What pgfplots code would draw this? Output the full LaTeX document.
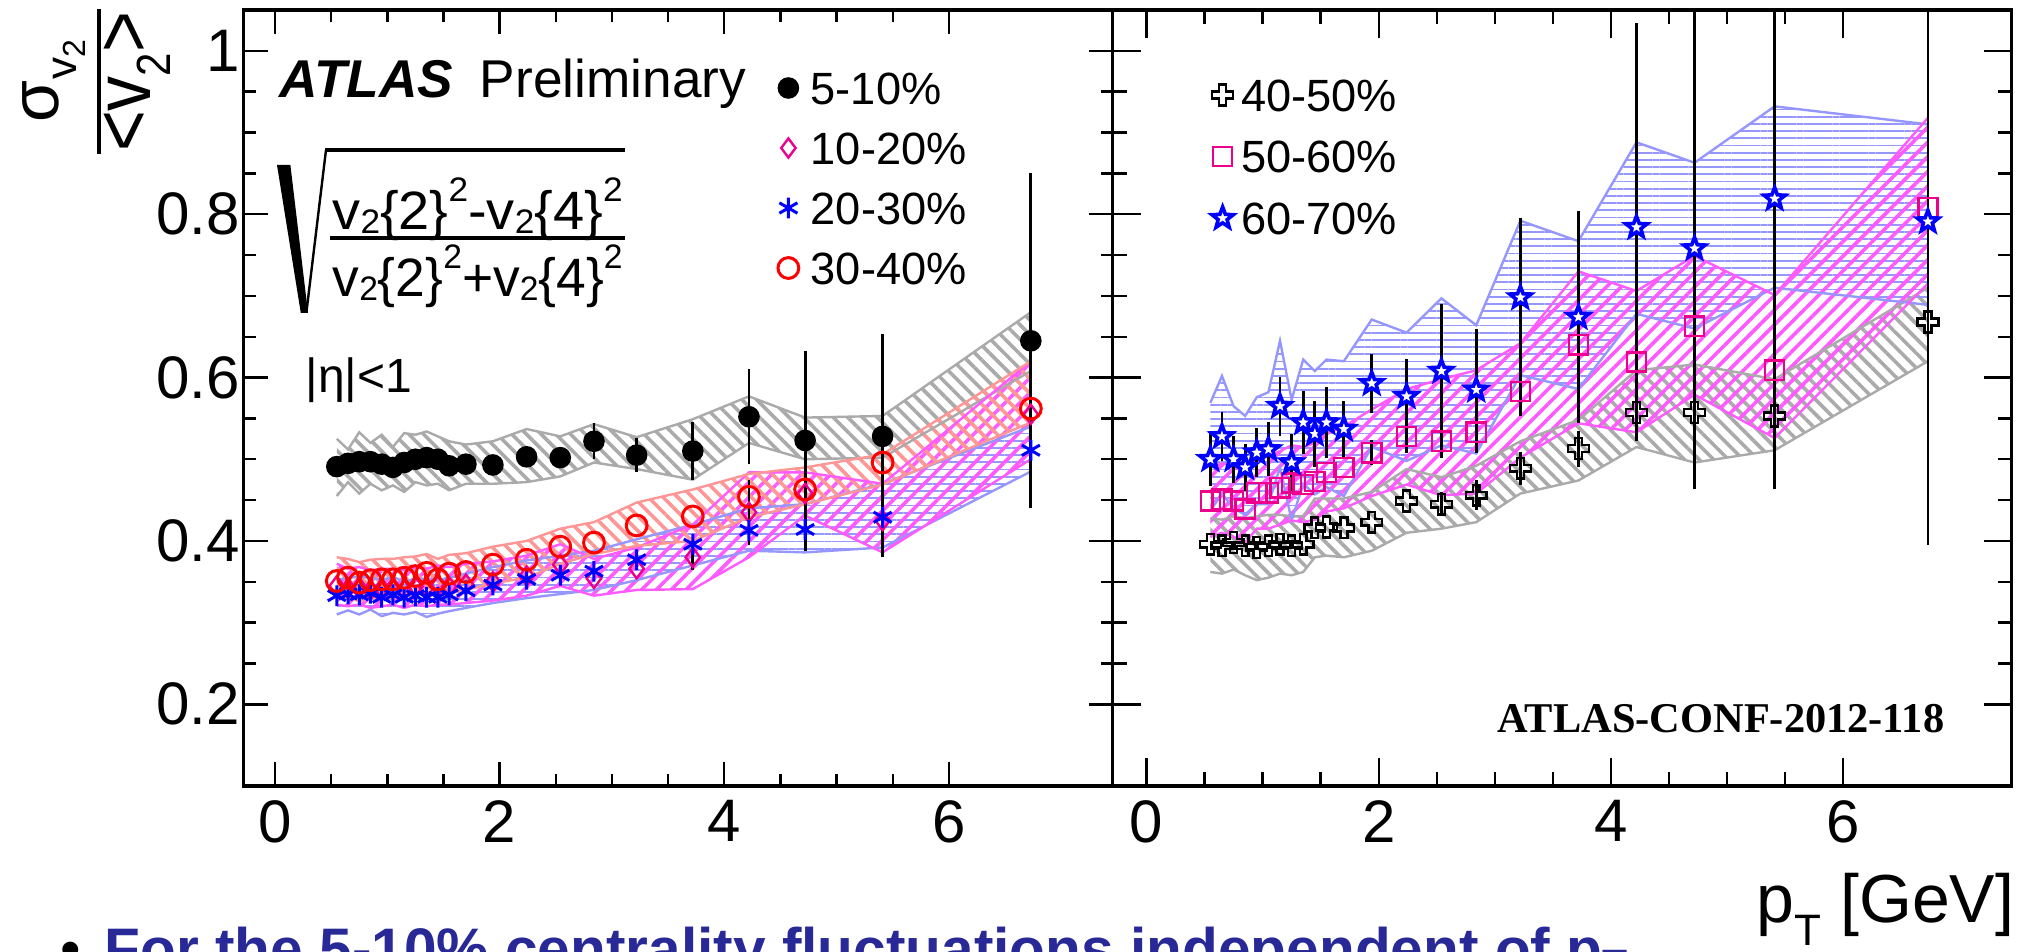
\documentclass[border=0pt]{standalone}
\usepackage{fontspec}
\setmainfont{Liberation Sans}
\newfontfamily\timesfont{Liberation Serif}
\usepackage{graphicx}
\usepackage{pgfplots}
\pgfplotsset{compat=1.18}
\usepackage{pgfplotstable}
\usepgfplotslibrary{fillbetween}
\usetikzlibrary{patterns.meta,plotmarks}

\definecolor{bgray}{RGB}{170,170,170}
\definecolor{bsalmon}{RGB}{255,150,150}
\definecolor{bblue}{RGB}{150,150,255}
\definecolor{bmag}{RGB}{255,90,255}
\definecolor{ptxt}{RGB}{40,40,150}

\pgfdeclareplotmark{ostar}{%
 \pgfpathmoveto{\pgfpointpolar{90}{\pgfplotmarksize}}%
 \pgfpathlineto{\pgfpointpolar{126}{0.42\pgfplotmarksize}}%
 \pgfpathlineto{\pgfpointpolar{162}{\pgfplotmarksize}}%
 \pgfpathlineto{\pgfpointpolar{198}{0.42\pgfplotmarksize}}%
 \pgfpathlineto{\pgfpointpolar{234}{\pgfplotmarksize}}%
 \pgfpathlineto{\pgfpointpolar{270}{0.42\pgfplotmarksize}}%
 \pgfpathlineto{\pgfpointpolar{306}{\pgfplotmarksize}}%
 \pgfpathlineto{\pgfpointpolar{342}{0.42\pgfplotmarksize}}%
 \pgfpathlineto{\pgfpointpolar{18}{\pgfplotmarksize}}%
 \pgfpathlineto{\pgfpointpolar{54}{0.42\pgfplotmarksize}}%
 \pgfpathclose\pgfusepathqfillstroke}
\pgfdeclareplotmark{ocross}{%
 \pgfpathmoveto{\pgfqpoint{-0.33\pgfplotmarksize}{\pgfplotmarksize}}%
 \pgfpathlineto{\pgfqpoint{0.33\pgfplotmarksize}{\pgfplotmarksize}}%
 \pgfpathlineto{\pgfqpoint{0.33\pgfplotmarksize}{0.33\pgfplotmarksize}}%
 \pgfpathlineto{\pgfqpoint{\pgfplotmarksize}{0.33\pgfplotmarksize}}%
 \pgfpathlineto{\pgfqpoint{\pgfplotmarksize}{-0.33\pgfplotmarksize}}%
 \pgfpathlineto{\pgfqpoint{0.33\pgfplotmarksize}{-0.33\pgfplotmarksize}}%
 \pgfpathlineto{\pgfqpoint{0.33\pgfplotmarksize}{-\pgfplotmarksize}}%
 \pgfpathlineto{\pgfqpoint{-0.33\pgfplotmarksize}{-\pgfplotmarksize}}%
 \pgfpathlineto{\pgfqpoint{-0.33\pgfplotmarksize}{-0.33\pgfplotmarksize}}%
 \pgfpathlineto{\pgfqpoint{-\pgfplotmarksize}{-0.33\pgfplotmarksize}}%
 \pgfpathlineto{\pgfqpoint{-\pgfplotmarksize}{0.33\pgfplotmarksize}}%
 \pgfpathlineto{\pgfqpoint{-0.33\pgfplotmarksize}{0.33\pgfplotmarksize}}%
 \pgfpathclose\pgfusepathqstroke}

\newcommand{\sbx}[1]{\raisebox{-1pt}{\fontsize{8.5}{9}\selectfont #1}}
\newcommand{\spx}[1]{\raisebox{7pt}{\fontsize{8.5}{9}\selectfont #1}}

% 5-10%
\pgfplotstableread{
pt v e lo hi
0.55 0.491 0 0.455 0.525
0.65 0.495 0 0.472 0.512
0.75 0.497 0 0.458 0.533
0.85 0.497 0 0.470 0.520
0.95 0.494 0 0.462 0.530
1.05 0.490 0 0.468 0.515
1.15 0.496 0 0.460 0.532
1.25 0.500 0 0.472 0.530
1.35 0.502 0 0.468 0.534
1.45 0.500 0 0.470 0.528
1.55 0.492 0 0.462 0.522
1.70 0.494 0 0.470 0.518
1.94 0.493 0 0.470 0.522
2.24 0.503 0 0.472 0.537
2.54 0.502 0.012 0.479 0.528
2.84 0.522 0.022 0.496 0.543
3.22 0.505 0.021 0.488 0.527
3.72 0.510 0.036 0.475 0.549
4.22 0.552 0.058 0.520 0.577
4.72 0.523 0.110 0.500 0.551
5.41 0.528 0.125 0.502 0.553
6.73 0.645 0.205 0.608 0.680
}\tA
% 10-20%
\pgfplotstableread{
pt v e lo hi
0.55 0.345 0 0.322 0.372
0.65 0.342 0 0.320 0.366
0.75 0.343 0 0.322 0.368
0.85 0.340 0 0.318 0.364
0.95 0.342 0 0.320 0.366
1.05 0.343 0 0.322 0.366
1.15 0.340 0 0.318 0.364
1.25 0.344 0 0.322 0.368
1.35 0.343 0 0.320 0.366
1.45 0.345 0 0.322 0.370
1.55 0.344 0 0.322 0.368
1.70 0.347 0 0.324 0.372
1.94 0.350 0 0.327 0.375
2.24 0.357 0 0.333 0.382
2.54 0.371 0 0.345 0.396
2.84 0.354 0 0.333 0.378
3.22 0.366 0 0.340 0.392
3.72 0.380 0.015 0.341 0.420
4.22 0.435 0.040 0.380 0.484
4.72 0.458 0.070 0.431 0.484
5.41 0.425 0.045 0.386 0.470
6.73 0.555 0.100 0.500 0.620
}\tB
% 20-30%
\pgfplotstableread{
pt v e lo hi
0.55 0.333 0 0.310 0.352
0.65 0.335 0 0.315 0.355
0.75 0.334 0 0.310 0.356
0.85 0.336 0 0.316 0.355
0.95 0.331 0 0.308 0.352
1.05 0.334 0 0.312 0.356
1.15 0.331 0 0.310 0.350
1.25 0.333 0 0.313 0.354
1.35 0.331 0 0.307 0.353
1.45 0.331 0 0.311 0.352
1.55 0.334 0 0.314 0.355
1.70 0.339 0 0.318 0.360
1.94 0.346 0 0.324 0.368
2.24 0.353 0 0.330 0.376
2.54 0.358 0 0.335 0.382
2.84 0.363 0 0.340 0.388
3.22 0.377 0 0.352 0.402
3.72 0.396 0 0.370 0.420
4.22 0.413 0.015 0.388 0.440
4.72 0.414 0.020 0.386 0.445
5.41 0.429 0.045 0.392 0.470
6.73 0.511 0.060 0.485 0.540
}\tC
% 30-40%
\pgfplotstableread{
pt v e lo hi
0.55 0.351 0 0.328 0.380
0.65 0.355 0 0.332 0.378
0.75 0.349 0 0.326 0.374
0.85 0.352 0 0.330 0.377
0.95 0.353 0 0.330 0.378
1.05 0.353 0 0.330 0.378
1.15 0.355 0 0.332 0.380
1.25 0.357 0 0.334 0.381
1.35 0.361 0 0.338 0.384
1.45 0.353 0 0.330 0.378
1.55 0.360 0 0.337 0.383
1.70 0.362 0 0.340 0.385
1.94 0.371 0 0.348 0.393
2.24 0.377 0 0.355 0.400
2.54 0.393 0 0.372 0.415
2.84 0.398 0 0.384 0.423
3.22 0.419 0 0.394 0.447
3.72 0.430 0 0.400 0.463
4.22 0.454 0.015 0.429 0.482
4.72 0.463 0.020 0.445 0.490
5.41 0.496 0.030 0.469 0.506
6.73 0.562 0.050 0.545 0.620
}\tD
% 40-50%
\pgfplotstableread{
pt v e lo hi
0.55 0.396 0 0.362 0.428
0.65 0.394 0 0.360 0.426
0.75 0.398 0 0.365 0.430
0.85 0.394 0 0.358 0.428
0.95 0.392 0 0.352 0.430
1.05 0.394 0 0.355 0.432
1.15 0.396 0 0.360 0.432
1.25 0.394 0 0.358 0.430
1.35 0.396 0 0.362 0.430
1.45 0.416 0 0.380 0.452
1.55 0.417 0 0.382 0.452
1.70 0.416 0 0.380 0.452
1.94 0.423 0 0.388 0.460
2.24 0.449 0 0.410 0.488
2.54 0.445 0.015 0.415 0.478
2.84 0.456 0.018 0.423 0.492
3.22 0.489 0.020 0.458 0.522
3.72 0.513 0.022 0.474 0.548
4.22 0.557 0.035 0.515 0.609
4.72 0.557 0.050 0.496 0.616
5.41 0.553 0.060 0.511 0.598
6.73 0.668 0.100 0.620 0.710
}\tE
% 50-60%
\pgfplotstableread{
pt v e lo hi
0.55 0.449 0 0.405 0.490
0.65 0.451 0 0.410 0.495
0.75 0.449 0 0.405 0.492
0.85 0.439 0 0.398 0.482
0.95 0.459 0 0.415 0.503
1.05 0.459 0 0.415 0.503
1.15 0.465 0 0.420 0.510
1.25 0.471 0 0.425 0.517
1.35 0.469 0 0.423 0.515
1.45 0.473 0 0.426 0.520
1.55 0.484 0 0.436 0.532
1.70 0.490 0 0.440 0.540
1.94 0.508 0.015 0.455 0.561
2.24 0.528 0.020 0.469 0.586
2.54 0.522 0.020 0.456 0.598
2.84 0.533 0.025 0.458 0.609
3.22 0.583 0.030 0.502 0.642
3.72 0.640 0.050 0.544 0.730
4.22 0.619 0.070 0.533 0.706
4.72 0.663 0.090 0.579 0.749
5.41 0.609 0.100 0.526 0.701
6.73 0.808 0.150 0.715 0.918
}\tF
% 60-70%
\pgfplotstableread{
pt v e lo hi
0.55 0.500 0.033 0.437 0.569
0.65 0.528 0.030 0.458 0.602
0.75 0.500 0.029 0.440 0.565
0.85 0.490 0.029 0.432 0.553
0.95 0.508 0.030 0.445 0.576
1.05 0.512 0.033 0.445 0.582
1.15 0.565 0.036 0.490 0.645
1.25 0.496 0.035 0.425 0.573
1.35 0.545 0.039 0.470 0.622
1.45 0.531 0.040 0.457 0.608
1.55 0.545 0.043 0.466 0.622
1.70 0.537 0.034 0.455 0.620
1.94 0.593 0.036 0.515 0.671
2.24 0.577 0.046 0.498 0.655
2.54 0.608 0.082 0.517 0.697
2.84 0.585 0.075 0.507 0.664
3.22 0.698 0.097 0.603 0.792
3.72 0.674 0.130 0.586 0.767
4.22 0.784 0.250 0.678 0.888
4.72 0.758 0.295 0.660 0.863
5.41 0.819 0.356 0.710 0.932
6.73 0.791 0.396 0.689 0.910
}\tG

\pgfplotsset{
 panel/.style={
   scale only axis, height=194pt, ymin=0.1, ymax=1.05,
   xtick={0,2,4,6}, minor x tick num=3,
   ytick={0.2,0.4,0.6,0.8,1}, minor y tick num=3,
   tick pos=both, tick align=inside,
   axis line style={line width=0.8pt},
   tick style={line width=0.6pt, black},
   tick label style={font=\fontsize{15}{15}\selectfont},
   /pgf/number format/assume math mode=true,
   /pgf/number format/fixed,
   yticklabel style={xshift=2.5pt},
   legend style={draw=none, fill=none, inner sep=0pt, outer sep=0pt,
      font=\fontsize{11.3}{13}\selectfont, cells={anchor=west},
      nodes={inner sep=1pt, text height=8.1pt, text depth=0pt}},
   legend image code/.code={\path[draw=none,fill=none] (0pt,-3pt) rectangle (5pt,3pt); \draw[##1] plot coordinates {(2.5pt,0pt)};},
 },
 errb/.style={error bars/.cd, y dir=both, y explicit, error mark=none,
   error bar style={black, line width=0.7pt}},
 bnd/.style={draw=#1, line width=0.6pt, forget plot},
}

\begin{document}
\begin{tikzpicture}
% ---------------- left panel
\begin{axis}[panel, at={(60.95pt,41.5pt)}, anchor=south west, width=217.25pt,
  xmin=-0.278, xmax=7.46, major tick length=6pt, minor tick length=3pt,
  legend style={at={(0.6147,0.9255)}, anchor=north west, row sep=4.9pt, column sep=2pt}]
\addplot[bnd=bgray, name path=Au] table[x=pt,y=hi]{\tA};
\addplot[bnd=bgray, name path=Al] table[x=pt,y=lo]{\tA};
\addplot[pattern={Lines[angle=-45,distance=2.6pt,line width=0.9pt]}, pattern color=bgray, forget plot] fill between[of=Au and Al];
\addplot[bnd=bblue, name path=Cu] table[x=pt,y=hi]{\tC};
\addplot[bnd=bblue, name path=Cl] table[x=pt,y=lo]{\tC};
\addplot[pattern={Lines[angle=0,distance=1.8pt,line width=0.45pt]}, pattern color=bblue, forget plot] fill between[of=Cu and Cl];
\addplot[bnd=bmag, name path=Bu] table[x=pt,y=hi]{\tB};
\addplot[bnd=bmag, name path=Bl] table[x=pt,y=lo]{\tB};
\addplot[pattern={Lines[angle=45,distance=2.6pt,line width=0.9pt]}, pattern color=bmag, forget plot] fill between[of=Bu and Bl];
\addplot[bnd=bsalmon, name path=Du] table[x=pt,y=hi]{\tD};
\addplot[bnd=bsalmon, name path=Dl] table[x=pt,y=lo]{\tD};
\addplot[pattern={Lines[angle=-45,distance=2.6pt,line width=0.9pt]}, pattern color=bsalmon, forget plot] fill between[of=Du and Dl];

\addplot[only marks, mark=*, mark size=2.5pt, black, errb] table[x=pt,y=v,y error=e]{\tA};
\addlegendentry{5-10\%}
\addplot[only marks, mark=diamond, mark size=2.4pt, magenta, mark options={line width=0.6pt}, errb] table[x=pt,y=v,y error=e]{\tB};
\addlegendentry{10-20\%}
\addplot[only marks, mark=asterisk, mark size=2.6pt, blue, mark options={line width=0.75pt}, errb] table[x=pt,y=v,y error=e]{\tC};
\addlegendentry{20-30\%}
\addplot[only marks, mark=o, mark size=2.6pt, red, mark options={line width=0.75pt}, errb] table[x=pt,y=v,y error=e]{\tD};
\addlegendentry{30-40\%}
\end{axis}
% ---------------- right panel
\begin{axis}[panel, at={(278.2pt,41.5pt)}, anchor=south west, width=224.75pt,
  xmin=-0.29, xmax=7.453, yticklabels={}, major tick length=7pt, minor tick length=3.5pt,
  legend style={at={(0.1103,0.9165)}, anchor=north west, row sep=5.3pt, column sep=1pt}]
\addplot[bnd=bgray, name path=Eu] table[x=pt,y=hi]{\tE};
\addplot[bnd=bgray, name path=El] table[x=pt,y=lo]{\tE};
\addplot[pattern={Lines[angle=-45,distance=2.6pt,line width=0.9pt]}, pattern color=bgray, forget plot] fill between[of=Eu and El];
\addplot[bnd=bblue, name path=Gu] table[x=pt,y=hi]{\tG};
\addplot[bnd=bblue, name path=Gl] table[x=pt,y=lo]{\tG};
\addplot[pattern={Lines[angle=0,distance=1.8pt,line width=0.45pt]}, pattern color=bblue, forget plot] fill between[of=Gu and Gl];
\addplot[bnd=bmag, name path=Fu] table[x=pt,y=hi]{\tF};
\addplot[bnd=bmag, name path=Fl] table[x=pt,y=lo]{\tF};
\addplot[pattern={Lines[angle=45,distance=2.6pt,line width=0.9pt]}, pattern color=bmag, forget plot] fill between[of=Fu and Fl];

\addplot[only marks, mark=ocross, mark size=2.6pt, black, mark options={line width=0.6pt}, errb] table[x=pt,y=v,y error=e]{\tE};
\addlegendentry{40-50\%}
\addplot[only marks, mark=square, mark size=2.4pt, magenta, mark options={line width=0.6pt}, errb] table[x=pt,y=v,y error=e]{\tF};
\addlegendentry{50-60\%}
\addplot[only marks, mark=ostar, mark size=2.8pt, blue, mark options={line width=0.9pt, fill=white}, errb] table[x=pt,y=v,y error=e]{\tG};
\addlegendentry{60-70\%}
\end{axis}

% ---------------- y label
\begin{scope}[shift={(24.5pt,217.5pt)}, rotate=90, transform shape]
\node[anchor=base west, inner sep=0pt, font=\fontsize{17}{17}\selectfont] at (-10.25pt,10pt) {σ};
\node[anchor=base west, inner sep=0pt, font=\fontsize{11}{11}\selectfont] at (0.5pt,5.5pt) {v};
\node[anchor=base west, inner sep=0pt, font=\fontsize{8}{8}\selectfont] at (6pt,3.25pt) {2};
\draw[line width=0.9pt] (-18pt,-0.25pt) -- (18.25pt,-0.25pt);
\node[anchor=base, inner sep=0pt] at (0pt,-13pt) {\resizebox{35pt}{\height}{\fontsize{20}{20}\selectfont <v\raisebox{-5pt}{\fontsize{12}{12}\selectfont 2}>}};
\end{scope}

% ---------------- texts
\node[anchor=base west, inner sep=0pt, font=\fontsize{13.3}{16}\selectfont] at (69.75pt,213.5pt) {\textbf{\textit{ATLAS}}\hspace{6.7pt}Preliminary};
\fill (69.25pt,196.75pt) -- (72.6pt,196.75pt) -- (77pt,159.75pt) -- (75.2pt,159.75pt) -- cycle;
\draw[line width=0.6pt] (76.6pt,159.9pt) -- (81.5pt,200.5pt);
\draw[line width=1pt] (81.3pt,200.5pt) -- (156.25pt,200.5pt);
\draw[line width=0.9pt] (82.5pt,178.5pt) -- (156.25pt,178.5pt);
\node[anchor=base, inner sep=0pt] at (119.4pt,180.5pt) {\resizebox{72.5pt}{\height}{\fontsize{13.5}{16}\selectfont v\sbx{2}\{2\}\spx{2}-v\sbx{2}\{4\}\spx{2}}};
\node[anchor=base, inner sep=0pt] at (119.4pt,163.75pt) {\resizebox{72.5pt}{\height}{\fontsize{13.5}{16}\selectfont v\sbx{2}\{2\}\spx{2}+v\sbx{2}\{4\}\spx{2}}};
\node[anchor=base west, inner sep=0pt, font=\fontsize{12}{14}\selectfont] at (76.25pt,139.75pt) {|η|<1};
\node[anchor=base east, inner sep=0pt, font=\timesfont\bfseries\fontsize{10.6}{12}\selectfont] at (486.25pt,54.75pt) {ATLAS-CONF-2012-118};
\node[anchor=base east, inner sep=0pt, font=\fontsize{17}{20}\selectfont] at (503.75pt,7.25pt) {p\raisebox{-5.75pt}{\fontsize{11}{11}\selectfont T} [GeV]};
\node[anchor=base, inner sep=0pt, font=\fontsize{14.65}{17}\selectfont] at (17.75pt,-4.5pt) {•};
\node[anchor=base west, inner sep=0pt, font=\bfseries\fontsize{14.65}{17}\selectfont, text=ptxt] at (26pt,-4.5pt) {For the 5-10\% centrality fluctuations independent of p\textsubscript{T}};

\pgfresetboundingbox
\path[use as bounding box] (0pt,0pt) rectangle (508.25pt,238pt);
\end{tikzpicture}
\end{document}
